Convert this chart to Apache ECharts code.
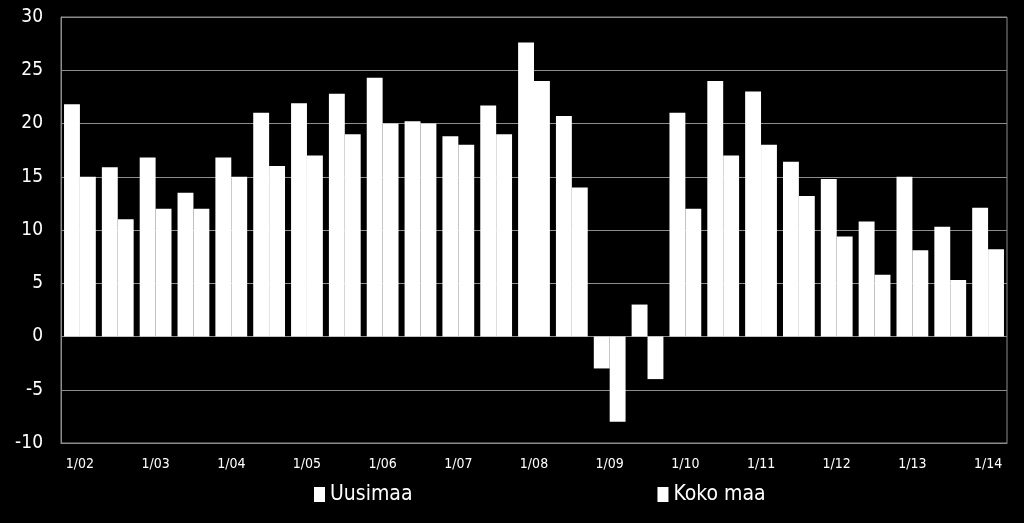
<!DOCTYPE html>
<html>
<head>
<meta charset="utf-8">
<script src="https://cdn.jsdelivr.net/npm/echarts@6/dist/echarts.min.js"></script>
<style>
  html, body { margin: 0; padding: 0; background: #000; }
  #chart { width: 1024px; height: 523px; }
</style>
</head>
<body>
<div id="chart"></div>
<script>
var categories = ['1/02', '7/02', '1/03', '7/03', '1/04', '7/04', '1/05', '7/05', '1/06', '7/06',
    '1/07', '7/07', '1/08', '7/08', '1/09', '7/09', '1/10', '7/10', '1/11', '7/11',
    '1/12', '7/12', '1/13', '7/13', '1/14'];
var uusimaa = [21.8, 15.9, 16.8, 13.5, 16.8, 21.0, 21.9, 22.8, 24.3, 20.2,
    18.8, 21.7, 27.6, 20.7, -3.0, 3.0, 21.0, 24.0, 23.0, 16.4,
    14.8, 10.8, 15.0, 10.3, 12.1];
var kokoMaa = [15.0, 11.0, 12.0, 12.0, 15.0, 16.0, 17.0, 19.0, 20.0, 20.0,
    18.0, 19.0, 24.0, 14.0, -8.0, -4.0, 12.0, 17.0, 18.0, 13.2,
    9.4, 5.8, 8.1, 5.3, 8.2];

var font = '"DejaVu Sans Condensed", "DejaVu Sans", sans-serif';
var myChart = echarts.init(document.getElementById('chart'));

var option = {
    backgroundColor: '#000',
    animation: false,
    grid: {
        left: 61, right: 17, top: 17, bottom: 80,
        show: true, borderColor: '#8c8c8c', borderWidth: 1
    },
    legend: {
        bottom: 13,
        left: 309,
        itemGap: 245,
        itemWidth: 11,
        itemHeight: 15,
        icon: 'rect',
        textStyle: { color: '#fff', fontSize: 21, fontFamily: font },
        data: ['Uusimaa', 'Koko maa']
    },
    xAxis: {
        type: 'category',
        data: categories,
        axisLine: { show: true, onZero: false, lineStyle: { color: '#8c8c8c' } },
        axisTick: { show: false },
        axisLabel: { interval: 1, color: '#fff', fontSize: 14, fontFamily: font, margin: 14 }
    },
    yAxis: {
        type: 'value',
        min: -10, max: 30, interval: 5,
        axisLine: { show: true, lineStyle: { color: '#8c8c8c' } },
        axisTick: { show: false },
        axisLabel: { color: '#fff', fontSize: 19, fontFamily: font, margin: 18 },
        splitLine: { lineStyle: { color: '#8c8c8c', width: 1 } }
    },
    series: [
        {
            name: 'Uusimaa', type: 'bar', data: uusimaa,
            itemStyle: { color: '#fff' },
            barGap: '0%', barCategoryGap: '16%'
        },
        {
            name: 'Koko maa', type: 'bar', data: kokoMaa,
            itemStyle: { color: '#fff' },
            barGap: '0%', barCategoryGap: '16%'
        }
    ]
};

myChart.setOption(option);
</script>
</body>
</html>
